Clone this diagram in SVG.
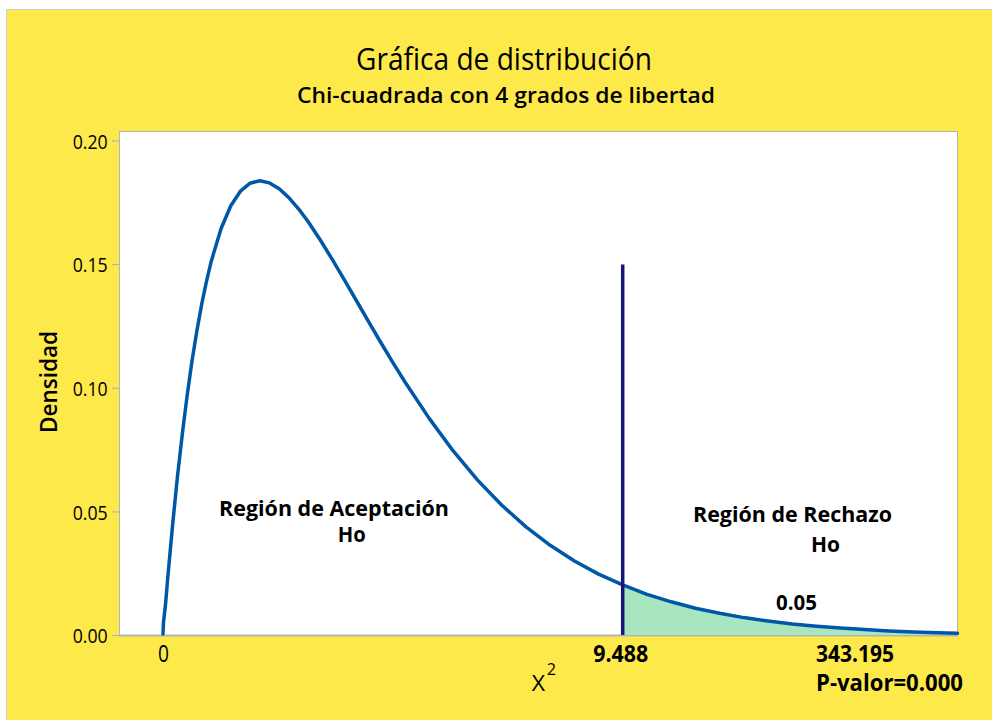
<svg xmlns="http://www.w3.org/2000/svg" width="992" height="720" viewBox="0 0 992 720">
<style>
text{font-family:"Open Sans","Liberation Sans",sans-serif;fill:#000}
.tick{font-size:20px;font-weight:500;text-anchor:end}
.lab{font-size:23px;font-weight:700;text-anchor:middle}
.reg{font-size:21px;font-weight:700;text-anchor:middle}
.tk{stroke:#b4b4b4;stroke-width:1.2}
</style>
<rect x="0" y="0" width="992" height="720" fill="#ffffff"/>
<rect id="background" x="6.5" y="9.5" width="990" height="715" fill="#FEE94B" stroke="#cfcfcf" stroke-width="1"/>
<g id="titles">
<text x="504" y="70" font-size="31" font-weight="500" text-anchor="middle" textLength="296" lengthAdjust="spacingAndGlyphs">Gráfica de distribución</text>
<text x="506" y="103" font-size="22" font-weight="600" text-anchor="middle" textLength="418" lengthAdjust="spacingAndGlyphs">Chi-cuadrada con 4 grados de libertad</text>
</g>
<g id="plot">
<rect x="119.5" y="131.5" width="838" height="504" fill="#ffffff" stroke="#b4b4b4" stroke-width="1"/>
<line x1="119" y1="635.5" x2="958" y2="635.5" stroke="#b4b4b4" stroke-width="2"/>
</g>
<g id="y-axis">
<line class="tk" x1="112" y1="141" x2="119" y2="141"/>
<line class="tk" x1="112" y1="264.6" x2="119" y2="264.6"/>
<line class="tk" x1="112" y1="388.3" x2="119" y2="388.3"/>
<line class="tk" x1="112" y1="511.9" x2="119" y2="511.9"/>
<line class="tk" x1="112" y1="635.5" x2="119" y2="635.5"/>
<text class="tick" x="107.7" y="148.7" textLength="35" lengthAdjust="spacingAndGlyphs">0.20</text>
<text class="tick" x="107.7" y="272.3" textLength="35" lengthAdjust="spacingAndGlyphs">0.15</text>
<text class="tick" x="107.7" y="396" textLength="35" lengthAdjust="spacingAndGlyphs">0.10</text>
<text class="tick" x="107.7" y="519.6" textLength="35" lengthAdjust="spacingAndGlyphs">0.05</text>
<text class="tick" x="107.7" y="643.2" textLength="35" lengthAdjust="spacingAndGlyphs">0.00</text>
<text transform="translate(56.5,382) rotate(-90)" x="0" y="0" font-size="24" font-weight="600" text-anchor="middle" textLength="102" lengthAdjust="spacingAndGlyphs">Densidad</text>
</g>
<g id="rejection-area">
<polygon fill="#A8E6C0" points="622.7,635 622.7,584.9 647.0,594.3 695.4,608.2 743.8,617.6 792.2,623.9 840.6,628.1 889.0,630.9 937.4,632.7 957.5,633.2 957.5,635"/>
</g>
<g id="curve">
<polyline fill="none" stroke="#0057A8" stroke-width="3.5" stroke-linejoin="round" stroke-linecap="round" points="163,634 163.5,622 165.4,605.8 167.8,577.1 172.7,524.0 177.5,476.2 182.4,433.4 187.2,395.1 192.0,361.0 196.9,330.8 201.7,304.2 206.6,280.9 211.4,260.7 221.1,228.5 230.8,205.8 240.4,191.2 250.1,183.2 259.8,180.7 269.5,182.9 279.2,188.7 288.8,197.6 298.5,208.8 308.2,221.8 320.3,240.0 332.4,259.7 344.5,280.2 356.6,301.0 368.7,321.9 380.8,342.5 392.9,362.6 405.0,382.0 429.2,418.4 453.4,451.2 477.6,480.1 501.8,505.2 526.0,526.9 550.2,545.3 574.4,561.0 598.6,574.1 622.7,584.9 647.0,594.3 671.2,601.8 695.4,608.2 719.6,613.3 743.8,617.6 768.0,621.0 792.2,623.9 816.4,626.2 840.6,628.1 864.8,629.6 889.0,630.9 913.2,631.9 937.4,632.7 957.5,633.2"/>
</g>
<g id="critical-line">
<line x1="622.7" y1="264.5" x2="622.7" y2="635" stroke="#16137C" stroke-width="3.5"/>
</g>
<g id="labels">
<text class="reg" x="334" y="516" textLength="230" lengthAdjust="spacingAndGlyphs">Región de Aceptación</text>
<text class="reg" x="351.7" y="541.7" textLength="28" lengthAdjust="spacingAndGlyphs">Ho</text>
<text class="reg" x="792.5" y="521.7" textLength="199" lengthAdjust="spacingAndGlyphs">Región de Rechazo</text>
<text class="reg" x="825.5" y="551.7" textLength="29" lengthAdjust="spacingAndGlyphs">Ho</text>
<text class="reg" x="796.5" y="610" textLength="41" lengthAdjust="spacingAndGlyphs">0.05</text>
</g>
<g id="x-axis">
<text x="163.5" y="661.7" font-size="23" text-anchor="middle" textLength="11" lengthAdjust="spacingAndGlyphs">0</text>
<text class="lab" x="620.7" y="661.7" textLength="55" lengthAdjust="spacingAndGlyphs">9.488</text>
<text class="lab" x="855" y="661.7" textLength="78" lengthAdjust="spacingAndGlyphs">343.195</text>
<text x="816" y="690.7" font-size="23" font-weight="700" textLength="147" lengthAdjust="spacingAndGlyphs">P-valor=0.000</text>
<text x="531.7" y="690.7" font-size="22" textLength="13.3" lengthAdjust="spacingAndGlyphs">X</text>
<text x="546.7" y="675" font-size="16" textLength="9.3" lengthAdjust="spacingAndGlyphs">2</text>
</g>
</svg>
